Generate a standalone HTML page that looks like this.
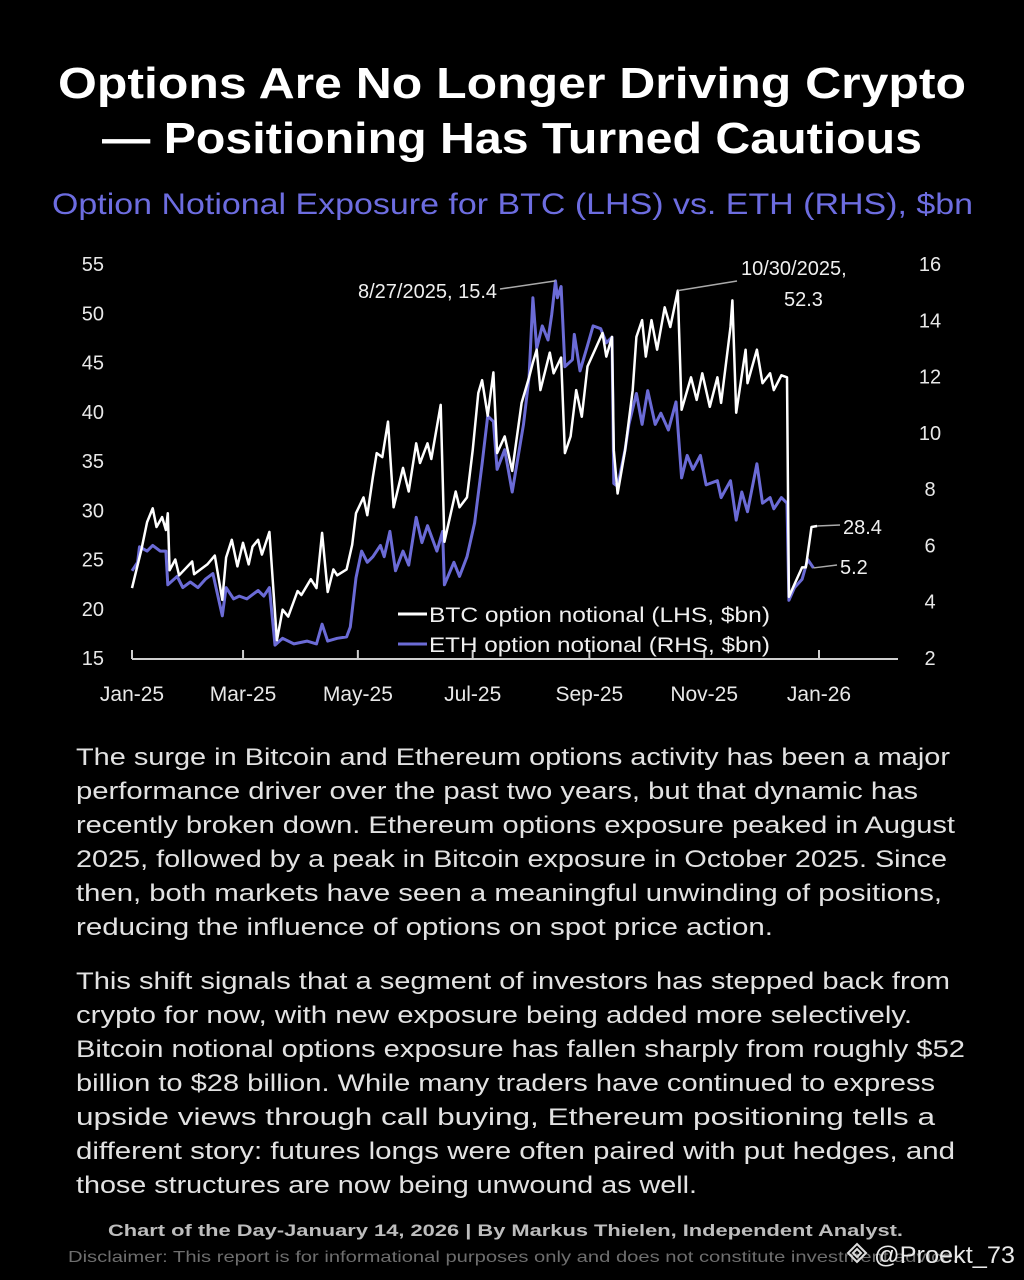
<!DOCTYPE html>
<html><head><meta charset="utf-8">
<style>
html,body{margin:0;padding:0;background:#000;}
svg{display:block;font-family:"Liberation Sans",sans-serif;}
</style></head>
<body>
<svg id="page" width="1024" height="1280" viewBox="0 0 1024 1280" xmlns="http://www.w3.org/2000/svg">
<rect width="1024" height="1280" fill="#000"/>
<g fill="#fff" font-weight="bold" font-size="44" text-anchor="middle">
<text x="512" y="98" textLength="908" lengthAdjust="spacingAndGlyphs">Options Are No Longer Driving Crypto</text>
<text x="512" y="153" textLength="820" lengthAdjust="spacingAndGlyphs">— Positioning Has Turned Cautious</text>
</g>
<text x="52" y="214" font-size="30" fill="#6d6de0" textLength="921" lengthAdjust="spacingAndGlyphs">Option Notional Exposure for BTC (LHS) vs. ETH (RHS), $bn</text>
<g id="chart"></g>
<g fill="#e2e2e2" font-size="24">
<text x="76" y="765" textLength="874" lengthAdjust="spacingAndGlyphs">The surge in Bitcoin and Ethereum options activity has been a major</text>
<text x="76" y="799" textLength="842" lengthAdjust="spacingAndGlyphs">performance driver over the past two years, but that dynamic has</text>
<text x="76" y="833" textLength="879" lengthAdjust="spacingAndGlyphs">recently broken down. Ethereum options exposure peaked in August</text>
<text x="76" y="867" textLength="871" lengthAdjust="spacingAndGlyphs">2025, followed by a peak in Bitcoin exposure in October 2025. Since</text>
<text x="76" y="901" textLength="866" lengthAdjust="spacingAndGlyphs">then, both markets have seen a meaningful unwinding of positions,</text>
<text x="76" y="935" textLength="697" lengthAdjust="spacingAndGlyphs">reducing the influence of options on spot price action.</text>
<text x="76" y="989" textLength="874" lengthAdjust="spacingAndGlyphs">This shift signals that a segment of investors has stepped back from</text>
<text x="76" y="1023" textLength="836" lengthAdjust="spacingAndGlyphs">crypto for now, with new exposure being added more selectively.</text>
<text x="76" y="1057" textLength="889" lengthAdjust="spacingAndGlyphs">Bitcoin notional options exposure has fallen sharply from roughly $52</text>
<text x="76" y="1091" textLength="859" lengthAdjust="spacingAndGlyphs">billion to $28 billion. While many traders have continued to express</text>
<text x="76" y="1125" textLength="859" lengthAdjust="spacingAndGlyphs">upside views through call buying, Ethereum positioning tells a</text>
<text x="76" y="1159" textLength="879" lengthAdjust="spacingAndGlyphs">different story: futures longs were often paired with put hedges, and</text>
<text x="76" y="1193" textLength="621" lengthAdjust="spacingAndGlyphs">those structures are now being unwound as well.</text>
</g>
<text x="108" y="1236" font-size="17" font-weight="bold" fill="#bdbdbd" textLength="795" lengthAdjust="spacingAndGlyphs">Chart of the Day-January 14, 2026  |  By Markus Thielen, Independent Analyst.</text>
<text x="68" y="1262" font-size="16" fill="#6e6e6e" textLength="890" lengthAdjust="spacingAndGlyphs">Disclaimer: This report is for informational purposes only and does not constitute investment advice.</text>
<g>
<path d="M857 1244 l9 9 -9 9 -9 -9z M857 1249 l4 4 -4 4 -4 -4z" fill="none" stroke="#ddd" stroke-width="2"/>
<text x="874" y="1263" font-size="24" fill="#e8e8e8" textLength="141" lengthAdjust="spacingAndGlyphs">@Proekt_73</text>
</g>
</svg>
<script>
const leftTicks=[15,20,25,30,35,40,45,50,55];
const rightTicks=[2,4,6,8,10,12,14,16];
const monthLabels=["Jan-25","Mar-25","May-25","Jul-25","Sep-25","Nov-25","Jan-26"];
const monthDays=[0,59,120,181,243,304,365];
const btcDays=[0,5,8,11,13,16,18,19,20,23,25,32,33,40,44,48,50,53,56,59,62,64,67,69,73,77,80,83,88,90,95,98,101,104,107,109,114,117,119,123,125,128,130,133,136,139,144,147,151,153,157,159,164,166,172,174,178,181,184,186,189,192,194,198,202,207,211,213,215,217,222,224,228,230,233,236,239,242,246,250,252,255,256,258,262,266,268,271,273,276,279,283,286,290,292,297,300,303,307,311,313,318,319,321,326,327,332,335,339,341,345,348,349,352,356,358,361,364];
const btcValues=[22.1,26,28.8,30.2,28.3,29.3,28,29.7,23.9,25,23.4,24.8,23.5,24.5,25.4,20.9,25.2,27,24.3,26.7,24.5,26.3,27,25.5,27.8,16.8,19.9,19.2,21.8,21.4,23,22.1,27.7,21.7,24,23.4,24,26.5,29.7,31.3,29.5,33.4,35.8,35.4,39,30.3,34.3,31.9,36.8,34.8,36.8,35.2,40.7,26.8,31.9,30.3,31.3,36.1,41.9,43.2,39.6,44,35.8,37.5,34,40.9,43.5,45,46.3,42.2,46,43.9,45.5,35.8,37.5,42.2,39.5,44.6,46.3,48,45.6,47.6,36.1,31.7,36.1,42.2,47.6,49.3,45.6,49.3,46.3,50.6,48.6,52.3,40.2,43.5,41.2,43.9,40.5,43.5,40.9,48.6,51.3,39.9,46.3,42.9,46.3,42.9,43.9,42.2,43.7,43.5,21.2,22.5,24.2,24.2,28.3,28.4];
const ethDays=[0,3,4,8,11,15,18,19,24,27,31,35,39,43,48,50,54,57,61,67,70,73,76,80,86,93,98,101,104,109,114,116,119,122,125,128,132,134,137,140,144,147,151,154,157,162,165,166,171,174,178,182,186,189,192,194,198,202,208,211,213,215,218,221,223,225,226,228,230,234,235,238,242,245,249,252,255,256,258,262,264,268,271,274,278,281,285,289,292,295,298,302,305,311,313,318,321,324,327,332,335,339,341,345,348,349,352,356,359,362];
const ethValues=[5.1,5.4,5.95,5.8,6.0,5.8,5.8,4.6,4.9,4.5,4.7,4.5,4.8,5.0,3.5,4.5,4.1,4.2,4.1,4.4,4.2,4.5,2.46,2.7,2.5,2.6,2.5,3.2,2.6,2.7,2.75,3.1,4.85,5.8,5.4,5.6,6.0,5.6,6.5,5.1,5.8,5.3,7.0,6.1,6.7,5.8,6.5,4.6,5.4,4.9,5.6,6.8,8.9,10.6,10.4,8.7,9.4,7.9,10.3,12.0,14.8,13.0,13.8,13.3,14.2,15.4,14.8,15.2,12.35,12.6,13.5,12.2,13.1,13.8,13.7,13.2,13.4,8.2,8.1,9.4,10.3,11.4,10.3,11.5,10.3,10.7,10.1,11.1,8.4,9.2,8.7,9.2,8.15,8.3,7.7,8.3,6.9,7.9,7.2,8.9,7.5,7.7,7.3,7.7,7.5,4.05,4.5,4.8,5.5,5.2];
const legendLabels=["BTC option notional (LHS, $bn)","ETH option notional (RHS, $bn)"];

const NS="http://www.w3.org/2000/svg";
const g=document.getElementById('chart');
const X0=132,X1=819,YT=264,YB=658;
const xs=d=>X0+(d/365)*(X1-X0);
const yl=v=>YB-(v-15)/(55-15)*(YB-YT);
const yr=v=>YB-(v-2)/(16-2)*(YB-YT);
function mk(tag,attrs,parent){const e=document.createElementNS(NS,tag);for(const k in attrs)e.setAttribute(k,attrs[k]);(parent||g).appendChild(e);return e;}

const axis=mk('line',{x1:X0,x2:898,y1:YB+1,y2:YB+1,stroke:'#cfcfcf','stroke-width':2});


monthDays.forEach((d,i)=>{
  const t=mk('line',{x1:xs(d),x2:xs(d),y1:YB+1,y2:YB-8,stroke:'#cfcfcf','stroke-width':2});
  
  
  const l=mk('text',{x:xs(d),y:701,'font-size':21,fill:'#e8e8e8','text-anchor':'middle'});
  l.textContent=monthLabels[i];
  
  
});
leftTicks.forEach(v=>{
  const l=mk('text',{x:104,y:yl(v)+7,'font-size':20,fill:'#e8e8e8','text-anchor':'end'});
  l.textContent=v;
  
  
});
rightTicks.forEach(v=>{
  const l=mk('text',{x:930,y:yr(v)+7,'font-size':20,fill:'#e8e8e8','text-anchor':'middle'});
  l.textContent=v;
  
  
});
const ethPts=ethDays.map((d,i)=>xs(d).toFixed(1)+','+yr(ethValues[i]).toFixed(1)).join(' ');
const eth=mk('polyline',{points:ethPts,fill:'none',stroke:'#6b6bd6','stroke-width':3,'stroke-linejoin':'round'});


const btcPts=btcDays.map((d,i)=>xs(d).toFixed(1)+','+yl(btcValues[i]).toFixed(1)).join(' ');
const btc=mk('polyline',{points:btcPts,fill:'none',stroke:'#ffffff','stroke-width':2.5,'stroke-linejoin':'round'});



const ethPeakI=ethValues.indexOf(Math.max(...ethValues));
const btcPeakI=btcValues.indexOf(Math.max(...btcValues));
const ann=[
 {x1:xs(ethDays[ethPeakI]),y1:yr(ethValues[ethPeakI]),x2:500,y2:289},
 {x1:xs(btcDays[btcPeakI]),y1:yl(btcValues[btcPeakI]),x2:737,y2:281},
 {x1:xs(btcDays[btcDays.length-1]),y1:yl(btcValues[btcValues.length-1]),x2:840,y2:525},
 {x1:xs(ethDays[ethDays.length-1]),y1:yr(ethValues[ethValues.length-1]),x2:837,y2:565}
];
ann.forEach(a=>{
  const l=mk('line',{x1:a.x1,y1:a.y1,x2:a.x2,y2:a.y2,stroke:'#aaa','stroke-width':1.5});
  
  
});
const annTexts=[
 {t:"8/27/2025, "+ethValues[ethPeakI].toFixed(1),x:497,y:298,a:'end'},
 {t:"10/30/2025,",x:741,y:275,a:'start'},
 {t:btcValues[btcPeakI].toFixed(1),x:784,y:306,a:'start'},
 {t:btcValues[btcValues.length-1].toFixed(1),x:843,y:534,a:'start'},
 {t:ethValues[ethValues.length-1].toFixed(1),x:840,y:574,a:'start'}
];
annTexts.forEach(a=>{
  const l=mk('text',{x:a.x,y:a.y,'font-size':20,fill:'#f0f0f0','text-anchor':a.a});
  l.textContent=a.t;
  
  
});
const legColors=['#ffffff','#6b6bd6'];
legendLabels.forEach((lab,i)=>{
  const y=614+i*30;
  const ln=mk('line',{x1:398,x2:427,y1:y,y2:y,stroke:legColors[i],'stroke-width':3});
  
  
  const t=mk('text',{x:429,y:y+8,'font-size':21,fill:'#f0f0f0',textLength:341,lengthAdjust:'spacingAndGlyphs'});
  t.textContent=lab;
  
  
});
</script>
</body></html>
